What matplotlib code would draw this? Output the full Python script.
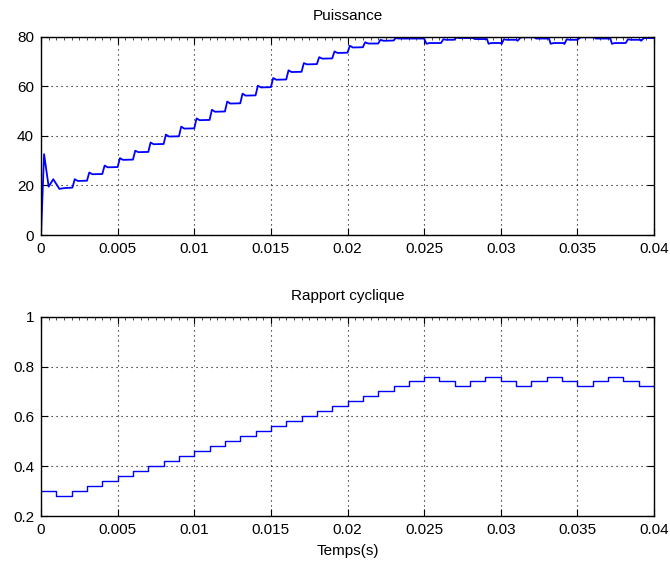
import numpy as np
import matplotlib.pyplot as plt
from matplotlib.ticker import MultipleLocator

# Puissance (W), time in ms
p_time_ms = [0, 0.2, 0.5, 0.8, 1.2, 1.5, 2.05, 2.2, 2.4, 3.0, 3.15, 3.35, 4.0, 4.15, 4.35,
             5.0, 5.15, 5.35, 6.0, 6.15, 6.35, 7.0, 7.15, 7.35, 8.0, 8.15, 8.35, 9.0,
             9.15, 9.35, 10.0, 10.15, 10.35, 11.0, 11.15, 11.35, 12.0, 12.15, 12.35,
             13.0, 13.15, 13.35, 14.0, 14.15, 14.35, 15.0, 15.15, 15.35, 16.0, 16.15,
             16.35, 17.0, 17.15, 17.35, 18.0, 18.15, 18.35, 19.0, 19.15, 19.35, 20.0,
             20.15, 20.35, 21.0, 21.15, 21.35, 22.0, 22.15, 22.35, 23.0, 23.15, 23.35,
             25.0, 25.15, 25.35, 26.1, 26.25, 26.45, 26.95, 27.1, 27.3, 28.2, 28.3,
             29.1, 29.2, 29.4, 30.0, 30.05, 30.2, 30.4, 31.0, 31.1, 31.3, 32.2, 32.3,
             33.15, 33.25, 33.45, 34.1, 34.15, 34.3, 34.5, 35.0, 35.2, 36.1, 36.2,
             37.15, 37.25, 37.45, 38.15, 38.3, 38.5, 39.1, 39.15, 39.35, 40.0]
p_values = [0, 32.6, 19.5, 22.5, 18.6, 18.9, 19.1, 22.5, 21.8, 21.9, 25.2, 24.5, 24.6, 28.0, 27.3,
            27.4, 31.0, 30.3, 30.4, 34.0, 33.4, 33.5, 37.3, 36.6, 36.7, 40.5, 39.7, 39.8,
            43.7, 42.9, 43.0, 47.0, 46.3, 46.4, 50.5, 49.7, 49.8, 53.8, 53.0,
            53.1, 57.0, 56.2, 56.3, 60.2, 59.5, 59.6, 63.3, 62.6, 62.7, 66.4,
            65.7, 65.8, 69.3, 68.8, 68.9, 71.7, 71.1, 71.2, 74.0, 73.4, 73.5,
            76.3, 75.6, 75.7, 77.7, 77.2, 77.2, 78.7, 78.3, 78.4, 79.4, 79.2,
            79.2, 77.1, 77.4, 77.4, 78.9, 78.7, 78.7, 79.6, 79.4, 79.4, 79.0,
            79.0, 77.1, 77.4, 77.4, 77.0, 78.9, 78.7, 78.7, 78.3, 79.7, 79.7, 79.2,
            79.2, 77.1, 77.4, 77.4, 77.0, 78.9, 78.7, 78.7, 79.7, 79.7, 79.2,
            79.2, 77.1, 77.4, 77.4, 78.9, 78.7, 78.7, 78.3, 79.4, 79.4]

# Rapport cyclique - one value per 1 ms step
d_step_ms = list(range(0, 41))
d_values = [0.30, 0.28, 0.30, 0.32, 0.34, 0.36, 0.38, 0.40, 0.42, 0.44,
            0.46, 0.48, 0.50, 0.52, 0.54, 0.56, 0.58, 0.60, 0.62, 0.64,
            0.66, 0.68, 0.70, 0.72, 0.74, 0.76, 0.74, 0.72, 0.74, 0.76,
            0.74, 0.72, 0.74, 0.76, 0.74, 0.72, 0.74, 0.76, 0.74, 0.72, 0.72]

x_ticks = [0, 0.005, 0.01, 0.015, 0.02, 0.025, 0.03, 0.035, 0.04]
x_tick_labels = ["0", "0.005", "0.01", "0.015", "0.02", "0.025", "0.03", "0.035", "0.04"]

plt.rcParams['font.family'] = ['Liberation Sans', 'DejaVu Sans']
FS = 11


def style_axes(ax):
    ax.set_xlim(0, 0.04)
    ax.set_xticks(x_ticks)
    ax.set_xticklabels(x_tick_labels)
    ax.grid(True, color='black', linestyle=(0, (1, 3.5)), linewidth=0.8)
    ax.tick_params(direction='in', top=True, right=True, length=5, width=0.8,
                   labelsize=FS, pad=5)
    ax.xaxis.set_minor_locator(MultipleLocator(0.0005))
    ax.tick_params(which='minor', direction='in', bottom=False, top=True, length=2, width=0.5)
    for s in ax.spines.values():
        s.set_linewidth(1.0)


fig = plt.figure(figsize=(6.7, 5.67), dpi=100)

ax1 = fig.add_axes([0.0612, 0.5855, 0.915, 0.350])
t_p = np.array(p_time_ms) / 1000.0
ax1.plot(t_p, p_values, color='#0000ff', linewidth=1.3)
ax1.set_ylim(0, 80)
ax1.set_yticks([0, 20, 40, 60, 80])
ax1.set_title("Puissance", fontsize=FS, pad=12)
style_axes(ax1)

ax2 = fig.add_axes([0.0612, 0.0899, 0.915, 0.3515])
t_d = np.array(d_step_ms) / 1000.0
ax2.plot(t_d, d_values, color='#0000ff', linewidth=1.0, drawstyle='steps-post')
ax2.set_ylim(0.2, 1.0)
ax2.set_yticks([0.2, 0.4, 0.6, 0.8, 1.0])
ax2.set_yticklabels(["0.2", "0.4", "0.6", "0.8", "1"])
ax2.set_title("Rapport cyclique", fontsize=FS, pad=12)
ax2.set_xlabel("Temps(s)", fontsize=FS, labelpad=5)
style_axes(ax2)

fig.savefig("out.png", dpi=100)
